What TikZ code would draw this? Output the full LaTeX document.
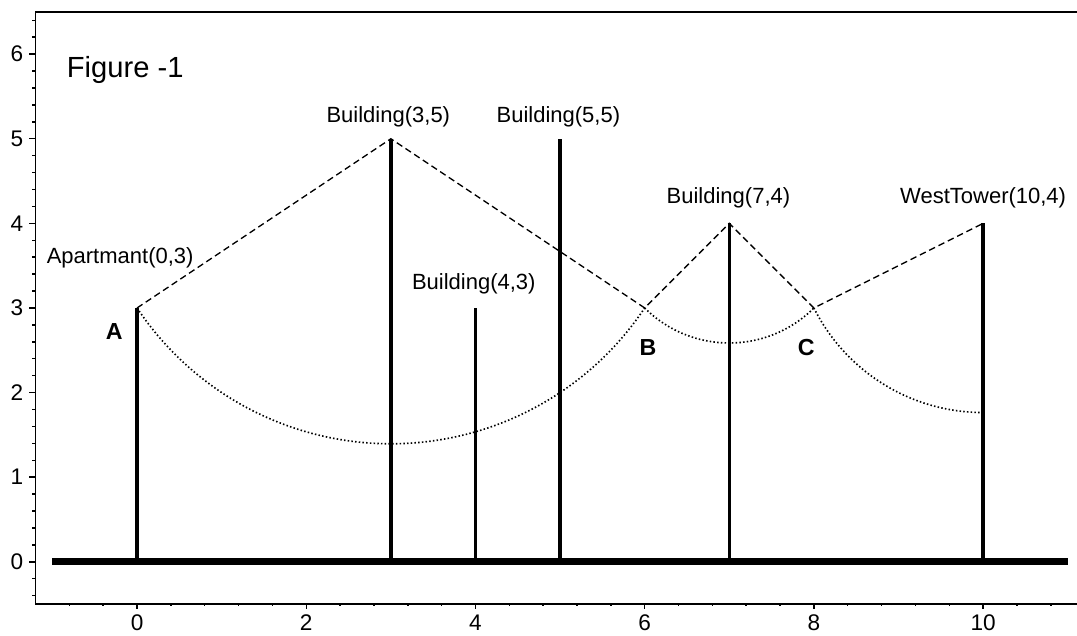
\documentclass[tikz,border=0pt]{standalone}
\usepackage{fontspec}
\setmainfont{Liberation Sans}
\begin{document}
\begin{tikzpicture}[
  %% Frame / axes
  axisline/.style={line width=0.6pt},
  tickmark/.style={line width=0.5pt},
  ticklbl/.style={font=\fontsize{7.6}{9}\selectfont, inner sep=0pt},
  %% Buildings (vertical) and ground
  bldg/.style={line width=1.1pt},
  ground/.style={line width=2.4pt},
  %% Dashed sight line linking the tops
  sight/.style={line width=0.45pt, dash pattern=on 2.2pt off 1.3pt},
  %% Dotted arcs
  swing/.style={line width=0.55pt, dash pattern=on 0.5pt off 0.75pt},
  %% Text labels
  lbl/.style={font=\fontsize{7.4}{9}\selectfont, inner sep=0pt},
  ptlbl/.style={font=\fontsize{7.8}{9}\selectfont\bfseries, inner sep=0pt}
]

%% ── Canvas size (keeps the margins of the plot window) ──────────────────
\useasboundingbox (-1.62,-0.866) rectangle (11.11,6.64);

%% ── Axes: left, top and bottom lines ─────────────────────────────────────
\coordinate (tr) at (11.2,6.5);
\coordinate (tl) at (-1.2,6.5);
\coordinate (bl) at (-1.2,-0.5);
\coordinate (br) at (11.2,-0.5);
\draw[axisline] (tr) -- (tl) -- (bl) -- (br);

%% y ticks: minor every 0.2, major at integers
\foreach \i in {-2,...,32}
  \draw[tickmark] (-1.2,\i/5) -- ++(-0.04,0);
\foreach \y in {0,...,6} {
  \draw[tickmark] (-1.2,\y) -- ++(-0.08,0);
  \node[ticklbl, anchor=east] (yl\y) at (-1.34,\y) {\y};
}

%% x ticks: minor every 0.4, major every 2
\foreach \i in {-2,...,27}
  \draw[tickmark] (\i*0.4,-0.5) -- ++(0,-0.025);
\foreach \x in {0,2,...,10} {
  \draw[tickmark] (\x,-0.5) -- ++(0,-0.06);
  \node[ticklbl] (xl\x) at (\x,-0.72) {\x};
}

%% ── Ground ───────────────────────────────────────────────────────────────
\coordinate (gl) at (-1,0);
\coordinate (gr) at (11,0);
\draw[ground] (gl) -- (gr);

%% ── Buildings: base and top of each ──────────────────────────────────────
\coordinate (apt0) at (0,0);  \coordinate (apt) at (0,3);
\coordinate (b350) at (3,0);  \coordinate (b35) at (3,5);
\coordinate (b430) at (4,0);  \coordinate (b43) at (4,3);
\coordinate (b550) at (5,0);  \coordinate (b55) at (5,5);
\coordinate (b740) at (7,0);  \coordinate (b74) at (7,4);
\coordinate (wt0)  at (10,0); \coordinate (wt)  at (10,4);
\foreach \b in {apt,b35,b43,b55,b74,wt}
  \draw[bldg] (\b0) -- (\b);

%% ── Crossing points ──────────────────────────────────────────────────────
\coordinate (ptB) at (6,3);
\coordinate (ptC) at (8,3);

%% Dashed line over the tops
\draw[sight] (apt) -- (b35) -- (ptB) -- (b74) -- (ptC) -- (wt);

%% Dotted arcs, each centred on a building top
\draw[swing] (apt) arc[start angle=213.69, end angle=326.31, radius={sqrt(13)}];
\draw[swing] (ptB) arc[start angle=225, end angle=315, radius={sqrt(2)}];
\draw[swing] (ptC) arc[start angle=206.57, end angle=270, radius={sqrt(5)}];

%% ── Labels ───────────────────────────────────────────────────────────────
\node[font=\fontsize{9.8}{11}\selectfont, inner sep=0pt] (title) at (-0.14,5.81) {Figure -1};
\node[lbl] (lapt) at (-0.20,3.59) {Apartmant(0,3)};
\node[lbl] (l35)  at (2.97,5.26)  {Building(3,5)};
\node[lbl] (l55)  at (4.98,5.26)  {Building(5,5)};
\node[lbl] (l43)  at (3.98,3.29)  {Building(4,3)};
\node[lbl] (l74)  at (6.99,4.30)  {Building(7,4)};
\node[lbl] (lwt)  at (10.0,4.30)  {WestTower(10,4)};
\node[ptlbl] (lA) at (-0.27,2.72) {A};
\node[ptlbl] (lB) at (6.04,2.53)  {B};
\node[ptlbl] (lC) at (7.91,2.53)  {C};

\end{tikzpicture}
\end{document}
